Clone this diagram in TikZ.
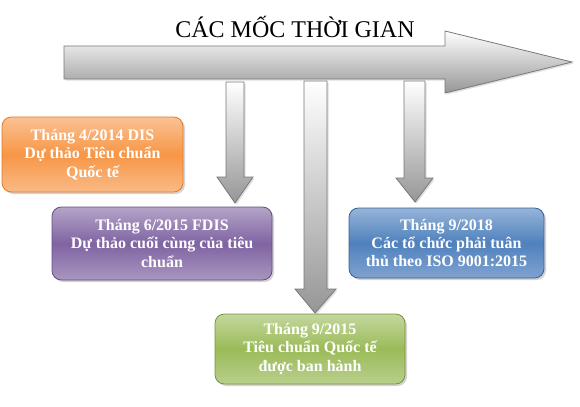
\documentclass[tikz,border=0pt]{standalone}
\usepackage{fontspec}
\setmainfont{Liberation Serif}
\usetikzlibrary{shadows}
\definecolor{orT}{RGB}{250,194,148}
\definecolor{orM}{RGB}{247,150,70}
\definecolor{orB}{RGB}{250,186,134}
\definecolor{orD}{RGB}{228,120,40}
\definecolor{puT}{RGB}{180,164,200}
\definecolor{puM}{RGB}{128,100,162}
\definecolor{puB}{RGB}{168,150,192}
\definecolor{puD}{RGB}{100,76,130}
\definecolor{blT}{RGB}{150,180,216}
\definecolor{blM}{RGB}{79,129,189}
\definecolor{blB}{RGB}{128,163,208}
\definecolor{blD}{RGB}{56,96,146}
\definecolor{grT}{RGB}{196,215,156}
\definecolor{grM}{RGB}{155,187,89}
\definecolor{grB}{RGB}{185,207,140}
\definecolor{grD}{RGB}{118,146,60}
\definecolor{arD}{RGB}{120,120,120}
\definecolor{arB}{RGB}{150,150,150}
\begin{document}
\begin{tikzpicture}[x=0.75pt,y=-0.75pt,
  arrowshape/.style={draw=arD, line width=0.6pt, top color=white, bottom color=arB,
    drop shadow={shadow xshift=1.2pt, shadow yshift=-1.2pt, opacity=0.25}},
  box/.style={rounded corners=7pt, line width=0.6pt, text=white, align=center,
    inner sep=0pt, font=\fontsize{12}{13.8}\selectfont\bfseries,
    drop shadow={shadow xshift=1.5pt, shadow yshift=-1.5pt, opacity=0.35}},
  orbox/.style={box, draw=orD, top color=orT, bottom color=orB, middle color=orM},
  pubox/.style={box, draw=puD, top color=puT, bottom color=puB, middle color=puM},
  blbox/.style={box, draw=blD, top color=blT, bottom color=blB, middle color=blM},
  grbox/.style={box, draw=grD, top color=grT, bottom color=grB, middle color=grM},
  titlestyle/.style={font=\fontsize{18}{21}\selectfont, text=black, inner sep=0pt}
]
\useasboundingbox (0,0) rectangle (580,406);
% main timeline arrow
\path[arrowshape] (64,46) -- (445,46) -- (445,31) -- (572,62) -- (445,93) -- (445,79) -- (64,79) -- cycle;
% vertical arrows
\path[arrowshape] (226,82) -- (244,82) -- (244,177) -- (253,177) -- (235,203) -- (217,177) -- (226,177) -- cycle;
\path[arrowshape] (304,81) -- (327,81) -- (327,289) -- (336,289) -- (315,313) -- (295,289) -- (304,289) -- cycle;
\path[arrowshape] (404,81) -- (425,81) -- (425,178) -- (433,178) -- (415,202) -- (396,178) -- (404,178) -- cycle;
% title
\node[titlestyle] (title) at (295,27) {CÁC MỐC THỜI GIAN};
% boxes
\node[orbox, minimum width=135.75pt, minimum height=56.25pt] (dis) at (92.5,154.5)
  {Tháng 4/2014 DIS\\Dự thảo Tiêu chuẩn\\Quốc tế};
\node[pubox, minimum width=165pt, minimum height=54.75pt] (fdis) at (162,243.5)
  {Tháng 6/2015 FDIS\\Dự thảo cuối cùng của tiêu\\chuẩn};
\node[blbox, minimum width=146.25pt, minimum height=52.5pt] (y2018) at (446.5,243)
  {Tháng 9/2018\\Các tổ chức phải tuân\\thủ theo ISO 9001:2015};
\node[grbox, minimum width=142.5pt, minimum height=52.5pt] (y2015) at (310,349)
  {Tháng 9/2015\\Tiêu chuẩn Quốc tế\\được ban hành};
\end{tikzpicture}
\end{document}
